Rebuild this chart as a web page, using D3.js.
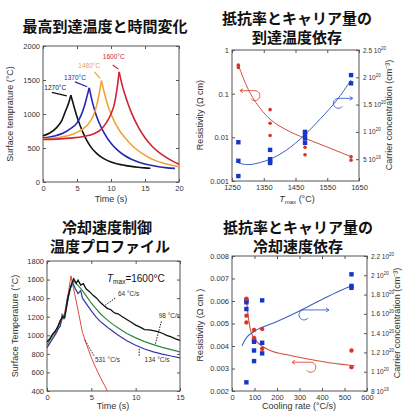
<!DOCTYPE html>
<html><head><meta charset="utf-8">
<script src="https://cdn.jsdelivr.net/npm/d3@7/dist/d3.min.js"></script>
<style>
body{margin:0;background:#fff}
svg text{font-family:"Liberation Sans",Arial,sans-serif;fill:#333}
.ttl{font-family:"Noto Sans CJK JP",sans-serif !important;font-weight:700;font-size:15px;fill:#111 !important}
</style></head><body>
<svg id="c" width="409" height="415"></svg>
<script>
// ---- panel 1 : heating profiles (time s, temperature C)
var heatBlack = [[0,680],[1,720],[2,800],[2.7,890],[3.3,1040],[3.8,1170],[4.1,1275],
  [4.5,1130],[5,960],[5.5,820],[6,700],[6.5,600],[7,520],[8,410],[9,340],[10,295],[11,265],[12,245],[13,230],[14,218],[15,208],[15.8,202]];
var heatBlue = [[0,650],[1,662],[2,685],[3,720],[4,780],[5,870],[5.6,980],[6.1,1120],[6.5,1270],[6.8,1385],
  [7.2,1200],[7.7,1020],[8.3,860],[9,720],[10,570],[11,465],[12,390],[13,335],[14,295],[15,265],[16,242],[17,225],[18,212],[19.4,200]];
var heatOrange = [[0,635],[2,650],[4,690],[5,730],[6,790],[6.8,870],[7.5,1000],[8,1170],[8.3,1320],[8.6,1490],
  [9,1320],[9.5,1140],[10,1000],[10.7,850],[11.5,720],[12.5,600],[13.5,500],[14.5,425],[15.5,365],[16.5,318],[17.5,283],[18.5,256],[19.5,236],[20,228]];
var heatRed = [[0,625],[2,630],[4,645],[6,670],[7.5,710],[8.5,770],[9.3,870],[10,1000],[10.5,1150],[10.9,1380],[11.2,1620],
  [11.6,1440],[12,1300],[12.5,1150],[13,1020],[14,810],[15,650],[16,530],[17,440],[18,370],[19,310],[20,260]];
var heatLabels = ["1270°C", "1370°C", "1480°C", "1600°C"];
var heatX = [0, 5, 10, 15, 20], heatY = [0, 500, 1000, 1500, 2000];

// ---- panel 2 : vs Tmax
var tmaxRes = [[1270,0.45],[1270,0.40],[1370,0.043],[1370,0.021],[1370,0.011],[1480,0.0059],[1480,0.004],[1625,0.0036],[1625,0.003]];
var tmaxCar = [[1270,8.1e19],[1270,4.7e19],[1270,1.9e19],[1370,6.7e19],[1370,5e19],[1370,4.6e19],[1370,4.3e19],
  [1480,1.0e20],[1480,9.5e19],[1480,8.8e19],[1480,8.0e19],[1625,2.04e20],[1625,1.89e20]];
var tmaxResFit = [[1270,0.45],[1300,0.13],[1340,0.045],[1370,0.026],[1420,0.015],[1480,0.0095],[1550,0.006],[1625,0.0036]];
var tmaxCarFit = [[1270,4.3e19],[1300,4.0e19],[1340,4.4e19],[1370,5.0e19],[1420,6.6e19],[1480,9.5e19],[1530,1.25e20],[1580,1.58e20],[1625,1.95e20]];
var tmaxX = [1250, 1350, 1450, 1550, 1650], tmaxYL = [0.001, 0.01, 0.1, 1];
var tmaxYR = [5e19, 1e20, 1.5e20, 2e20, 2.5e20];

// ---- panel 3 : cooling profiles
var coolBlack = [[0,930],[0.3,960],[0.6,1010],[0.9,1040],[1.2,1090],[1.5,1160],[1.8,1200],[2.0,1190],[2.2,1300],[2.4,1420],[2.6,1500],[2.8,1560],[3.0,1610],
  [3.3,1560],[3.5,1595],[3.8,1540],[4.1,1555],[4.4,1500],[4.8,1470],[5.2,1430],[5.6,1400],[6.0,1355],[6.4,1320],[6.8,1290],[7.2,1275],[7.6,1240],[8.0,1232],
  [8.5,1200],[9.0,1170],[9.5,1140],[10,1110],[10.5,1088],[11,1062],[11.5,1058],[12,1050],[12.5,1040],[13,1022],[13.5,1000],[14,982],[14.5,962],[15,945]];
var coolGreen = [[0,900],[0.4,960],[0.8,1020],[1.2,1080],[1.6,1170],[2.0,1220],[2.4,1400],[2.7,1530],[3.0,1585],
  [3.4,1545],[3.8,1505],[4.2,1455],[4.6,1400],[5,1345],[5.5,1290],[6,1235],[6.5,1190],[7,1150],[7.5,1112],[8,1080],[9,1020],[10,972],[11,932],[12,900],[13,870],[14,845],[15,822]];
var coolBlue = [[0,870],[0.4,930],[0.8,990],[1.2,1060],[1.5,1100],[1.7,1220],[1.9,1180],[2.1,1260],[2.3,1400],[2.5,1470],[2.7,1520],[2.9,1565],
  [3.2,1500],[3.5,1450],[3.8,1480],[4.0,1400],[4.5,1330],[5,1262],[5.5,1200],[6,1150],[6.5,1110],[7,1072],[8,1002],[9,942],[10,892],[11,852],[12,822],[13,797],[14,777],[15,757]];
var coolRed = [[0,860],[0.5,940],[1,1010],[1.5,1110],[2,1250],[2.4,1450],[2.7,1640],
  [3.0,1500],[3.5,1270],[4,1030],[4.5,890],[5,760],[5.5,650],[6,550],[6.5,460],[6.8,400]];
var coolLabels = ["64 °C/s", "98 °C/s", "134 °C/s", "531 °C/s"];
var coolX = [0, 5, 10, 15], coolY = [400, 600, 800, 1000, 1200, 1400, 1600, 1800];

// ---- panel 4 : vs cooling rate
var rateRes = [[64,0.0061],[64,0.00535],[64,0.00505],[98,0.00471],[98,0.00436],[134,0.00476],[134,0.00388],[531,0.0038],[531,0.00306]];
var rateCar = [[64,1.74e20],[64,1.72e20],[64,1.65e20],[64,8.9e19],[98,1.33e20],[98,1.31e20],[98,1.22e20],[98,1.11e20],
  [134,1.74e20],[134,1.30e20],[134,1.19e20],[531,2.01e20],[531,1.89e20],[531,1.87e20]];
var rateResFit = [[64,0.0061],[70,0.0055],[80,0.0048],[95,0.0044],[120,0.0041],[170,0.0038],[250,0.0036],[350,0.0034],[450,0.00323],[545,0.00312]];
var rateCarFit = [[45,1.27e20],[60,1.34e20],[80,1.39e20],[100,1.42e20],[200,1.52e20],[300,1.63e20],[400,1.75e20],[480,1.84e20],[540,1.9e20]];
var rateX = [0, 100, 200, 300, 400, 500, 600];
var rateYL = [0.002, 0.003, 0.004, 0.005, 0.006, 0.007, 0.008];
var rateYR = [8e19, 1e20, 1.2e20, 1.4e20, 1.6e20, 1.8e20, 2e20, 2.2e20];

var svg = d3.select("#c");

function clean(s) {
  s.select(".domain").remove();
  s.selectAll("line").attr("stroke", "#555");
  s.selectAll("text").attr("font-size", 7.5).attr("fill", "#333").attr("font-family", null);
}

function sci(s) {
  s.selectAll(".tick text").each(function(d) {
    var e = Math.floor(Math.log10(d) + 1e-9), m = +(d / Math.pow(10, e)).toFixed(2);
    var t = d3.select(this).text(null).attr("font-size", 6.5);
    t.append("tspan").text(m + " 10");
    t.append("tspan").attr("dy", -3).attr("font-size", 4.5).text(e);
  });
}

function frame(b, x, y, xt, yt, yfmt) {
  var g = svg.append("g");
  g.append("rect").attr("x", b.l).attr("y", b.t).attr("width", b.r - b.l).attr("height", b.b - b.t)
    .attr("fill", "none").attr("stroke", "#555").attr("stroke-width", 1);
  g.append("g").attr("transform", "translate(0," + b.b + ")")
    .call(d3.axisBottom(x).tickValues(xt).tickSize(-3).tickSizeOuter(0).tickPadding(4).tickFormat(d3.format("d"))).call(clean);
  g.append("g").attr("transform", "translate(0," + b.t + ")")
    .call(d3.axisTop(x).tickValues(xt).tickSize(-3).tickSizeOuter(0).tickFormat("")).call(clean);
  g.append("g").attr("transform", "translate(" + b.l + ",0)")
    .call(d3.axisLeft(y).tickValues(yt).tickSize(-3).tickSizeOuter(0).tickPadding(3).tickFormat(yfmt)).call(clean);
  return g;
}

function rightAxis(b, y, yt) {
  svg.append("g").attr("transform", "translate(" + b.r + ",0)")
    .call(d3.axisRight(y).tickValues(yt).tickSize(-3).tickSizeOuter(0).tickPadding(4)).call(clean).call(sci);
}

function plainRight(b, y, yt) {
  svg.append("g").attr("transform", "translate(" + b.r + ",0)")
    .call(d3.axisRight(y).tickValues(yt).tickSize(-3).tickSizeOuter(0).tickFormat("")).call(clean);
}

function title(x, y, s) {
  svg.append("text").attr("class", "ttl").attr("x", x).attr("y", y).attr("text-anchor", "middle").text(s);
}

function label(x, y, s, rot) {
  var t = svg.append("text").attr("x", x).attr("y", y).attr("text-anchor", "middle").attr("font-size", 9).attr("fill", "#333");
  if (rot) t.attr("transform", "rotate(" + rot + "," + x + "," + y + ")");
  return t.text(s);
}

function curl(cx, cy, tipX, color, dir) {
  var r = 5, ly = cy - r;
  svg.append("path").attr("fill", "none").attr("stroke", color).attr("stroke-width", 0.9)
    .attr("d", "M" + tipX + "," + ly + "L" + cx + "," + ly +
      "A" + r + "," + r + " 0 1 " + (dir < 0 ? 1 : 0) + " " + (cx + dir * 0.8 * r) + "," + (cy + 0.6 * r) +
      "M" + (tipX - 3 * dir) + "," + (ly - 2) + "L" + tipX + "," + ly + "L" + (tipX - 3 * dir) + "," + (ly + 2));
}

function peakLine(g, data, x, y, color, w) {
  var line = d3.line().x(d => x(d[0])).y(d => y(d[1])).curve(d3.curveMonotoneX);
  var k = d3.maxIndex(data, d => d[1]);
  g.append("path").attr("d", line(data.slice(0, k + 1))).attr("fill", "none").attr("stroke", color).attr("stroke-width", w);
  g.append("path").attr("d", line(data.slice(k))).attr("fill", "none").attr("stroke", color).attr("stroke-width", w);
}

// ================= panel 1
var b1 = {l: 43, r: 179, t: 46, b: 182};
var x1 = d3.scaleLinear().domain([0, 20]).range([b1.l, b1.r]);
var y1 = d3.scaleLinear().domain([0, 2000]).range([b1.b, b1.t]);
var g1 = frame(b1, x1, y1, heatX, heatY, d3.format("d"));
plainRight(b1, y1, heatY);
[[heatBlack, "#111"], [heatBlue, "#2626b4"], [heatOrange, "#f2a23a"], [heatRed, "#cf2336"]]
  .forEach(c => peakLine(g1, c[0], x1, y1, c[1], 1.6));
var notes1 = [[heatLabels[0], 0.2, 1360, "#111", [1.3, 1317, 3.5, 1267]],
  [heatLabels[1], 3.1, 1505, "#2626b4", [4.7, 1472, 6.5, 1400]],
  [heatLabels[2], 5.2, 1670, "#f2a23a", [7.55, 1620, 8.4, 1523]],
  [heatLabels[3], 8.8, 1815, "#cf2336", [10.25, 1720, 11.1, 1660]]];
notes1.forEach(n => {
  svg.append("text").attr("x", x1(n[1])).attr("y", y1(n[2])).attr("font-size", 6.5).style("fill", n[3]).text(n[0]);
  svg.append("line").attr("x1", x1(n[4][0])).attr("y1", y1(n[4][1])).attr("x2", x1(n[4][2])).attr("y2", y1(n[4][3]))
    .attr("stroke", n[3]).attr("stroke-width", 1.2);
});
title(105, 32, "最高到達温度と時間変化");
label(13, 114, "Surface temprature (°C)", -90);
label(111, 202, "Time (s)");

// ================= panel 2
var b2 = {l: 232, r: 359, t: 50, b: 181};
var x2 = d3.scaleLinear().domain([1250, 1650]).range([b2.l, b2.r]);
var y2L = d3.scaleLog().domain([0.001, 1]).range([b2.b, b2.t]);
var y2R = d3.scaleLinear().domain([1e19, 2.5e20]).range([b2.b, b2.t]);
var g2 = frame(b2, x2, y2L, tmaxX, tmaxYL, d => d3.format("")(d));
rightAxis(b2, y2R, tmaxYR);
var fit = (x, y) => d3.line().x(d => x(d[0])).y(d => y(d[1])).curve(d3.curveMonotoneX);
g2.append("path").attr("d", fit(x2, y2L)(tmaxResFit)).attr("fill", "none").attr("stroke", "#d0503c").attr("stroke-width", 1);
g2.append("path").attr("d", fit(x2, y2R)(tmaxCarFit)).attr("fill", "none").attr("stroke", "#4060c4").attr("stroke-width", 1);
g2.selectAll(".sq").data(tmaxCar).join("rect").attr("x", d => x2(d[0]) - 2.2).attr("y", d => y2R(d[1]) - 2.2)
  .attr("width", 4.4).attr("height", 4.4).attr("fill", "#1537c8");
g2.selectAll(".dot").data(tmaxRes).join("circle").attr("cx", d => x2(d[0])).attr("cy", d => y2L(d[1]))
  .attr("r", 1.8).attr("fill", "#d8352a");
curl(x2(1322), y2L(0.1) + 2, x2(1275), "#d0503c", -1);
curl(x2(1585), y2R(1.56e20) + 2, x2(1630), "#4060c4", 1);
title(297, 24, "抵抗率とキャリア量の");
title(297, 43, "到達温度依存");
label(203, 115, "Resistivity (Ω cm)", -90);
label(392, 115, "Carrier concentration (cm⁻³)", -90);
var xl2 = svg.append("text").attr("x", 297).attr("y", 202).attr("text-anchor", "middle").attr("font-size", 9).attr("fill", "#333");
xl2.append("tspan").attr("font-style", "italic").text("T");
xl2.append("tspan").attr("font-size", 6).attr("dy", 2).text("max");
xl2.append("tspan").attr("dy", -2).text(" (°C)");

// ================= panel 3
var b3 = {l: 47, r: 180, t: 261, b: 391};
var x3 = d3.scaleLinear().domain([0, 15]).range([b3.l, b3.r]);
var y3 = d3.scaleLinear().domain([400, 1800]).range([b3.b, b3.t]);
var g3 = frame(b3, x3, y3, coolX, coolY, d3.format("d"));
plainRight(b3, y3, coolY);
var raw = d3.line().x(d => x3(d[0])).y(d => y3(d[1]));
[[coolRed, "#e0483c", 1], [coolBlue, "#3434b0", 1.2], [coolGreen, "#2c8a3a", 1.2], [coolBlack, "#111", 1.3]]
  .forEach(c => g3.append("path").attr("d", raw(c[0])).attr("fill", "none").attr("stroke", c[1]).attr("stroke-width", c[2]));
var notes3 = [[coolLabels[0], 8.0, 1420, [7.7, 1400, 6.5, 1320]],
  [coolLabels[1], 12.6, 1190, [12.9, 1150, 12.2, 900]],
  [coolLabels[2], 11.0, 710, [10.4, 780, 10.4, 865]],
  [coolLabels[3], 5.4, 710, [5.3, 780, 4.2, 960]]];
notes3.forEach(n => {
  svg.append("text").attr("x", x3(n[1])).attr("y", y3(n[2])).attr("font-size", 6.5).text(n[0]);
  svg.append("line").attr("x1", x3(n[3][0])).attr("y1", y3(n[3][1])).attr("x2", x3(n[3][2])).attr("y2", y3(n[3][3]))
    .attr("stroke", "#222").attr("stroke-width", 1).attr("stroke-dasharray", "1.5,1.2");
});
var tm = svg.append("text").attr("x", 107).attr("y", 282).attr("font-size", 10).style("fill", "#111");
tm.append("tspan").attr("font-style", "italic").text("T");
tm.append("tspan").attr("font-size", 6.5).attr("dy", 2).text("max");
tm.append("tspan").attr("dy", -2).text("=1600°C");
title(107, 233, "冷却速度制御");
title(110, 252, "温度プロファイル");
label(18, 326, "Surface Temperature (°C)", -90);
label(113, 409, "Time (s)");

// ================= panel 4
var b4 = {l: 232, r: 367, t: 256, b: 391};
var x4 = d3.scaleLinear().domain([0, 600]).range([b4.l, b4.r]);
var y4L = d3.scaleLinear().domain([0.002, 0.008]).range([b4.b, b4.t]);
var y4R = d3.scaleLinear().domain([8e19, 2.2e20]).range([b4.b, b4.t]);
var g4 = frame(b4, x4, y4L, rateX, rateYL, d3.format(".3f"));
rightAxis(b4, y4R, rateYR);
g4.append("path").attr("d", fit(x4, y4L)(rateResFit)).attr("fill", "none").attr("stroke", "#d0503c").attr("stroke-width", 1.1);
g4.append("path").attr("d", fit(x4, y4R)(rateCarFit)).attr("fill", "none").attr("stroke", "#4060c4").attr("stroke-width", 1.1);
g4.selectAll(".sq").data(rateCar).join("rect").attr("x", d => x4(d[0]) - 2.2).attr("y", d => y4R(d[1]) - 2.2)
  .attr("width", 4.4).attr("height", 4.4).attr("fill", "#1537c8");
g4.selectAll(".dot").data(rateRes).join("circle").attr("cx", d => x4(d[0])).attr("cy", d => y4L(d[1]))
  .attr("r", 2.2).attr("fill", "#d8352a");
curl(x4(320), y4R(1.62e20) + 3, x4(431), "#4060c4", 1);
curl(x4(350), y4L(0.00319) + 3, x4(267), "#d0503c", -1);
title(298, 233, "抵抗率とキャリア量の");
title(298, 252, "冷却速度依存");
label(203, 325, "Resistivity  (Ω cm )", -90);
label(400, 323, "Carrier concentration (cm⁻³)", -90);
label(299, 409, "Cooling rate (°C/s)");
</script>
</body></html>
